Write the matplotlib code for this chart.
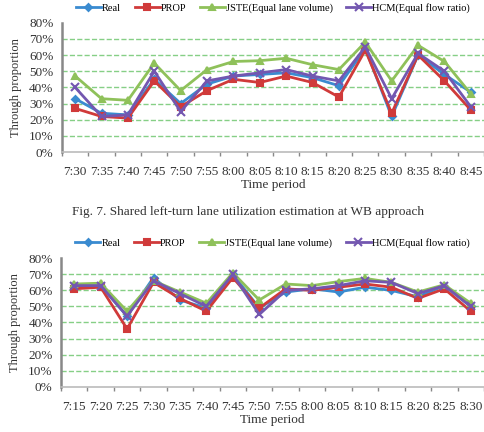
import numpy as np
import matplotlib
matplotlib.use("Agg")
import matplotlib.pyplot as plt
from matplotlib.ticker import PercentFormatter

plt.rcParams['font.family'] = ['Liberation Serif', 'DejaVu Serif']

# WB approach (top chart)
times_wb = ["7:30", "7:35", "7:40", "7:45", "7:50", "7:55", "8:00", "8:05",
            "8:10", "8:15", "8:20", "8:25", "8:30", "8:35", "8:40", "8:45"]
real_wb = [33, 24, 23, 45, 30, 42, 47, 48, 49, 46, 41, 64, 22, 60, 48, 37]
prop_wb = [27, 22, 21, 44, 28, 38, 45, 43, 47, 43, 34, 63, 24, 60, 44, 26]
jste_wb = [47, 33, 32, 55, 38, 51, 56, 56.5, 58, 54, 51, 68, 44, 66, 56, 36]
hcm_wb = [40, 22, 23, 50, 25, 44, 47, 49, 51, 47, 44, 65, 33, 61, 50, 28]

# second approach (bottom chart)
times_2 = ["7:15", "7:20", "7:25", "7:30", "7:35", "7:40", "7:45", "7:50",
           "7:55", "8:00", "8:05", "8:10", "8:15", "8:20", "8:25", "8:30"]
real_2 = [62, 63, 44, 68, 54, 49, 70, 49, 59, 61, 59, 62, 60, 56, 63, 50]
prop_2 = [61, 62, 36, 65, 55, 47, 68, 49, 61, 60, 62, 64, 62, 55, 61, 47]
jste_2 = [64, 64.5, 47, 66, 59, 52, 71, 54, 64, 63, 65.5, 67.5, 65, 59, 63.5, 52]
hcm_2 = [63, 63, 44, 66, 58, 50, 70, 45, 60, 61, 63, 66, 65, 58, 63, 50]

labels = ["Real", "PROP", "JSTE(Equal lane volume)", "HCM(Equal flow ratio)"]
colors = ["#3a8bd0", "#d03a3a", "#8fc15a", "#7357b0"]
markers = ["D", "s", "^", "x"]
msizes = [3.5, 5, 5, 6]


def draw(ax, times, series, legend_x, legend_y):
    x = np.arange(len(times))
    handles = []
    for vals, lab, c, m, ms in zip(series, labels, colors, markers, msizes):
        h, = ax.plot(x, np.array(vals) / 100, color=c, marker=m, markersize=ms,
                     linewidth=2, label=lab, markeredgewidth=1.5)
        handles.append(h)
    ax.set_ylim(0, 0.8)
    ax.set_xlim(-0.5, len(times) - 0.5)
    ax.set_yticks(np.arange(0, 0.81, 0.1))
    ax.yaxis.set_major_formatter(PercentFormatter(1.0, decimals=0))
    ax.set_xticks(x)
    ax.set_xticklabels(times)
    ax.set_xticks(np.arange(-0.5, len(times)), minor=True)
    ax.tick_params(axis='x', which='major', length=0, pad=10, labelsize=9.5, colors='#333333')
    ax.tick_params(axis='x', which='minor', length=3, width=1, colors='#888888')
    ax.tick_params(axis='y', length=0, pad=6, labelsize=9.5, labelcolor='#333333')
    for gy in np.arange(0.1, 0.71, 0.1):
        ax.axhline(gy, color='#86cf86', linestyle='--', linewidth=1, zorder=0)
    for s in ['top', 'right']:
        ax.spines[s].set_visible(False)
    ax.spines['left'].set_color('#888888')
    ax.spines['left'].set_linewidth(1.8)
    ax.spines['bottom'].set_color('#bbbbbb')
    ax.spines['bottom'].set_linewidth(1.2)
    ax.set_xlabel("Time period", fontsize=9.5, color='#333333', labelpad=1)
    ax.set_ylabel("Through proportion", fontsize=9, color='#333333', labelpad=5)
    ax.legend(handles=handles, loc='center', bbox_to_anchor=(legend_x, legend_y),
              ncol=4, frameon=False, fontsize=7.5, handlelength=2.4,
              handletextpad=0.1, columnspacing=1.3, borderaxespad=0)


fig = plt.figure(figsize=(4.84, 4.32), dpi=100)
ax1 = fig.add_axes([0.128, 0.648, 0.872, 0.2995])
ax2 = fig.add_axes([0.126, 0.105, 0.874, 0.297])

draw(ax1, times_wb, [real_wb, prop_wb, jste_wb, hcm_wb], 0.5, 1.113)
draw(ax2, times_2, [real_2, prop_2, jste_2, hcm_2], 0.5, 1.12)

fig.text(0.513, 0.509, "Fig. 7. Shared left-turn lane utilization estimation at WB approach",
         ha='center', va='center', fontsize=9.5, color='#333333')

fig.savefig("out.png", dpi=100)
